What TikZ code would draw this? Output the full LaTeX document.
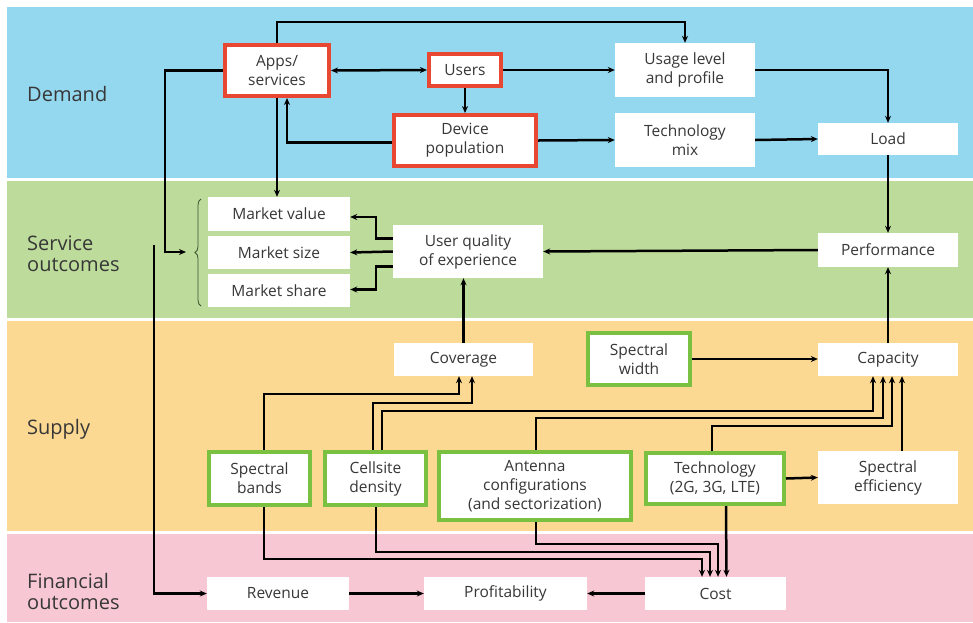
\documentclass[tikz,border=0pt]{standalone}
\usepackage{fontspec}
\setmainfont{Open Sans}
\usetikzlibrary{arrows.meta,calc,decorations.pathreplacing}
\definecolor{demandbg}{RGB}{148,216,240}
\definecolor{servicebg}{RGB}{189,219,155}
\definecolor{supplybg}{RGB}{252,217,147}
\definecolor{financebg}{RGB}{247,200,211}
\definecolor{redframe}{RGB}{232,72,50}
\definecolor{greenframe}{RGB}{122,193,66}
\definecolor{ink}{RGB}{55,55,55}
\definecolor{bracecol}{RGB}{60,85,50}
\tikzset{
  box/.style 2 args={fill=white, draw=none, text=ink, align=center, inner sep=0pt,
    minimum width=#1pt, minimum height=#2pt,
    font=\fontsize{15.5}{19}\selectfont},
  redbox/.style 2 args={box={#1}{#2}, draw=redframe, line width=4pt},
  greenbox/.style 2 args={box={#1}{#2}, draw=greenframe, line width=4pt},
  band/.style={anchor=west, align=left, text=ink, inner sep=0pt,
    font=\fontsize{20}{21}\selectfont},
  conn/.style={draw=black, line width=2.5pt, line join=miter,
    -{Stealth[length=7pt,width=6pt]}},
  twoway/.style={conn, {Stealth[length=7pt,width=6pt]}-{Stealth[length=7pt,width=6pt]}},
}
\begin{document}
\begin{tikzpicture}[x=1pt,y=-1pt]
\useasboundingbox (0,0) rectangle (973,622);
% horizontal bands
\fill[demandbg]  (7,7)   rectangle (973,178);
\fill[servicebg] (7,181) rectangle (973,318);
\fill[supplybg]  (7,321) rectangle (973,531);
\fill[financebg] (7,534) rectangle (973,622);

% band titles
\node[band] (tdemand)  at (27,94)  {Demand};
\node[band] (tservice) at (27,254) {Service\\outcomes};
\node[band] (tsupply)  at (27,429) {Supply};
\node[band] (tfinance) at (27,591) {Financial\\outcomes};

% demand
\node[redbox={104}{51}] (apps)  at (277,70.5)  {Apps/\\services};
\node[redbox={72}{32}]  (users) at (465,70)    {Users};
\node[redbox={142}{51}] (dev)   at (465,140.5) {Device\\population};
\node[box={140}{54}]    (usage) at (685,70)    {Usage level\\and profile};
\node[box={140}{54}]    (tmix)  at (685,140)   {Technology\\mix};
\node[box={140}{32}]    (load)  at (888,139)   {Load};

% service outcomes
\node[box={142}{34}] (mvalue) at (279,214)   {Market value};
\node[box={142}{33}] (msize)  at (279,252.5) {Market size};
\node[box={142}{33}] (mshare) at (279,290.5) {Market share};
\node[box={150}{53}] (uqoe)   at (468,251.5) {User quality\\of experience};
\node[box={140}{34}] (perf)   at (888,250)   {Performance};

% supply
\node[box={139}{33}]       (cov)  at (463.5,359.5) {Coverage};
\node[greenbox={102}{52}]  (sw)   at (639,359)     {Spectral\\width};
\node[box={140}{33}]       (cap)  at (888,359.5)   {Capacity};
\node[greenbox={101}{53}]  (sb)   at (259.5,478.5) {Spectral\\bands};
\node[greenbox={101}{53}]  (cd)   at (375.5,478.5) {Cellsite\\density};
\node[greenbox={192}{68}]  (ant)  at (535,486)     {Antenna\\configurations\\(and sectorization)};
\node[greenbox={138}{51}]  (tech) at (715,478.5)   {Technology\\(2G, 3G, LTE)};
\node[box={140}{53}]       (se)   at (888,477.5)   {Spectral\\efficiency};

% financial outcomes
\node[box={142}{33}] (rev)  at (278,593.5)   {Revenue};
\node[box={163}{33}] (prof) at (505.5,593.5) {Profitability};
\node[box={141}{33}] (cost) at (715.5,593.5) {Cost};

% brace grouping the market outcomes
\draw[bracecol, line width=0.8pt, decorate, decoration={brace, amplitude=6pt}]
  (201,306) -- (201,199);
\coordinate (bracetip) at (186,252);
\coordinate (mkt) at (154,245);

% demand connectors
\draw[conn] (apps.north) |- ($(usage.north)+(0,-21)$) -- (usage.north);
\draw[conn] (apps.west) -| (165,252) -- (bracetip);
\draw[conn] (apps.south) -- (apps.south |- mvalue.north);
\draw[twoway] (apps.east) -- (users.west);
\draw[conn] (users.south) -- (dev.north);
\draw[conn] (users.east) -- (usage.west);
\draw[conn] ($(dev.west)+(0,2)$) -| ($(apps.south)+(10,0)$);
\draw[conn] (dev.east) -- (tmix.west);
\draw[conn] (usage.east) -| (load.north);
\draw[conn] (tmix.east) -- (load.west);
\draw[conn] (load.south) -- (perf.north);

% service connectors
\draw[conn] (perf.west) -- (uqoe.east);
\draw[conn] (uqoe.west) -- (msize.east);
\draw[conn] ($(uqoe.west)+(0,-13)$) -- ++(-17,0) |- ($(mvalue.east)+(0,3)$);
\draw[conn] ($(uqoe.west)+(0,15)$) -- ++(-17,0) |- ($(mshare.east)+(0,-1)$);
\draw[conn] (mkt) |- (rev.west);

% supply connectors
\draw[conn] (cov.north) -- (cov.north |- uqoe.south);
\draw[conn] (cap.north) -- (perf.south);
\draw[conn] (sw.east) -- (sw.east -| cap.west);
\draw[conn] (tech.east) -- (se.west);
\draw[conn] ($(sb.north)+(4.5,0)$) |- ($(cov.south)+(-4.5,18)$) -- ($(cov.south)+(-4.5,0)$);
\draw[conn] ($(cd.north)+(-2.5,0)$) |- ($(cov.south)+(8.5,27)$) -- ($(cov.south)+(8.5,0)$);
\draw[conn] ($(cd.north)+(6.5,0)$) |- ($(cap.south)+(-15,35)$) -- ($(cap.south)+(-15,0)$);
\draw[conn] ($(ant.north)+(1,0)$) |- ($(cap.south)+(-5,42)$) -- ($(cap.south)+(-5,0)$);
\draw[conn] ($(tech.north)+(-3,0)$) |- ($(cap.south)+(4,50)$) -- ($(cap.south)+(4,0)$);
\draw[conn] ($(se.north)+(14,0)$) -- ($(cap.south)+(14,0)$);

% cost connectors
\draw[conn] ($(sb.south)+(4.5,0)$) |- ($(cost.north)+(-13.5,-18)$) -- ($(cost.north)+(-13.5,0)$);
\draw[conn] ($(cd.south)+(0.5,0)$) |- ($(cost.north)+(-5.5,-25)$) -- ($(cost.north)+(-5.5,0)$);
\draw[conn] ($(ant.south)+(1,0)$) |- ($(cost.north)+(2.5,-33)$) -- ($(cost.north)+(2.5,0)$);
\draw[conn] ($(tech.south)+(11,0)$) -- ($(cost.north)+(11,0)$);

% financial connectors
\draw[conn] (rev.east) -- (prof.west);
\draw[conn] (cost.west) -- (prof.east);
\end{tikzpicture}
\end{document}
